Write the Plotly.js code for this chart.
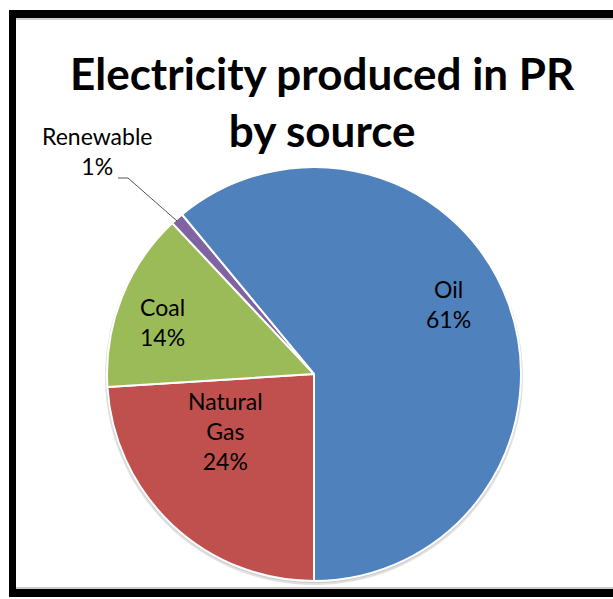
<!DOCTYPE html>
<html>
<head>
<meta charset="utf-8">
<script src="https://cdn.plot.ly/plotly-3.0.1.min.js"></script>
<style>
  html, body { margin: 0; padding: 0; background: #ffffff; }
  #chart { width: 613px; height: 599px; }
</style>
</head>
<body>
<div id="chart"></div>
<script>
// Electricity generation shares in Puerto Rico, listed clockwise from 6 o'clock
const sources = ['Natural Gas', 'Coal', 'Renewable', 'Oil'];
const shares = [24, 14, 1, 61];
const sliceColors = ['#C0504D', '#9BBB59', '#8064A2', '#4F81BD'];
const chartTitle = ['Electricity produced in PR', 'by source'];

// label lines shown for each source
const labelLines = {
  'Natural Gas': ['Natural', 'Gas'],
  'Coal': ['Coal'],
  'Renewable': ['Renewable'],
  'Oil': ['Oil']
};

const W = 613, H = 599;
const px = x => x / W;
const py = y => 1 - y / H;

const total = shares.reduce((a, b) => a + b, 0);
const pct = v => Math.round(v / total * 100) + '%';

// pie placement (pixels)
const cx = 314, cy = 374, R = 207;

// where each label block is centred (pixels)
const labelAt = {
  'Oil': [448, 304],
  'Natural Gas': [225, 431],
  'Coal': [162, 322],
  'Renewable': [97, 151]
};

const labelFont = { family: 'Lato, "Open Sans", sans-serif', size: 23, color: '#000000' };

const annotations = sources.map((s, i) => {
  const lines = labelLines[s].concat([pct(shares[i])]);
  const p = labelAt[s];
  return {
    xref: 'paper', yref: 'paper',
    x: px(p[0]), y: py(p[1]),
    xanchor: 'center', yanchor: 'middle',
    text: lines.join('<br>'),
    showarrow: false,
    align: 'center',
    font: labelFont
  };
});

// chart heading
annotations.push({
  xref: 'paper', yref: 'paper',
  x: px(322), y: py(101),
  xanchor: 'center', yanchor: 'middle',
  text: '<b>' + chartTitle.join('<br>') + '</b>',
  showarrow: false,
  align: 'center',
  font: { family: 'Lato, "Open Sans", sans-serif', size: 44, color: '#000000' }
});

const data = [{
  type: 'pie',
  labels: sources,
  values: shares,
  sort: false,
  direction: 'clockwise',
  rotation: 180,
  textinfo: 'none',
  hoverinfo: 'label+percent',
  marker: { colors: sliceColors, line: { color: '#ffffff', width: 2 } },
  domain: { x: [px(cx - R), px(cx + R)], y: [py(cy + R), py(cy - R)] },
  showlegend: false
}];

const frame = '#000000';
const shapes = [
  // soft shadow under the pie
  { type: 'circle', xref: 'paper', yref: 'paper', layer: 'below',
    x0: px(cx - R - 2), x1: px(cx + R + 2), y0: py(cy + R + 4), y1: py(cy - R + 1),
    fillcolor: 'rgba(0,0,0,0.12)', line: { width: 0 } },
  { type: 'circle', xref: 'paper', yref: 'paper', layer: 'below',
    x0: px(cx - R - 1), x1: px(cx + R + 1), y0: py(cy + R + 2), y1: py(cy - R),
    fillcolor: 'rgba(0,0,0,0.10)', line: { width: 0 } },
  // outer black frame: top, left, bottom
  { type: 'rect', xref: 'paper', yref: 'paper', x0: px(9), x1: 1, y0: py(18), y1: py(10),
    fillcolor: frame, line: { width: 0 } },
  { type: 'rect', xref: 'paper', yref: 'paper', x0: px(9), x1: px(16), y0: py(597), y1: py(10),
    fillcolor: frame, line: { width: 0 } },
  { type: 'rect', xref: 'paper', yref: 'paper', x0: px(9), x1: 1, y0: py(597), y1: py(589),
    fillcolor: frame, line: { width: 0 } },
  // thin grey inner edge of the frame
  { type: 'line', xref: 'paper', yref: 'paper', x0: px(16), x1: 1, y0: py(19), y1: py(19),
    line: { color: '#9a9a9a', width: 1 } },
  { type: 'line', xref: 'paper', yref: 'paper', x0: px(16), x1: 1, y0: py(588), y1: py(588),
    line: { color: '#9a9a9a', width: 1 } },
  // leader line for the small slice label
  { type: 'path', xref: 'paper', yref: 'paper',
    path: 'M ' + px(118) + ',' + py(178) + ' L ' + px(128) + ',' + py(178) + ' L ' + px(177) + ',' + py(221),
    line: { color: '#555555', width: 1 } }
];

const layout = {
  width: W, height: H,
  margin: { l: 0, r: 0, t: 0, b: 0 },
  paper_bgcolor: '#ffffff',
  plot_bgcolor: '#ffffff',
  shapes: shapes,
  annotations: annotations
};

Plotly.newPlot('chart', data, layout, { displayModeBar: false, staticPlot: true });
</script>
</body>
</html>
